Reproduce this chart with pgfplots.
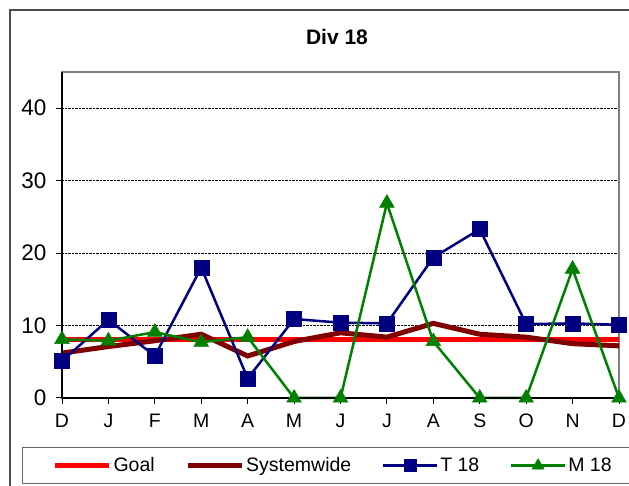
\documentclass[border=0pt]{standalone}
\usepackage{fontspec}
\setmainfont{Liberation Sans}
\usepackage{pgfplots}
\pgfplotsset{compat=1.18}
\definecolor{goalc}{RGB}{255,0,0}
\definecolor{sysc}{RGB}{128,0,0}
\definecolor{tc}{RGB}{0,0,128}
\definecolor{mc}{RGB}{0,128,0}
\begin{document}
\begin{tikzpicture}[x=1pt,y=1pt]
\useasboundingbox (0,0) rectangle (629,486);
\draw[line width=1.2pt, black!70] (10,-5) -- (10,476) -- (640,476);
\node[font=\bfseries\fontsize{21}{24}\selectfont] at (337,449) {Div 18};
\begin{axis}[at={(62pt,88pt)}, anchor=south west, scale only axis,
  width=557pt, height=326pt,
  xmin=0, xmax=12, ymin=0, ymax=45,
  xtick={0,...,12}, xticklabels={D,J,F,M,A,M,J,J,A,S,O,N,D},
  ytick={0,10,20,30,40},
  ymajorgrids, grid style={densely dotted, black, line width=0.6pt},
  axis line style={black!50, line width=1.2pt},
  tick align=outside, tick pos=left, major tick length=6pt,
  tick style={black, line width=1pt},
  /pgf/number format/assume math mode=true,
  yticklabel style={font=\fontsize{22.5}{26}\selectfont, xshift=-6pt},
  xticklabel style={font=\fontsize{19.5}{23}\selectfont, yshift=-6pt, text height=14pt, text depth=0pt},
  clip=false,
  legend columns=4,
  legend style={at={(-0.0718,-0.2638)}, anchor=south west, draw=black!60, line width=1pt,
    font=\fontsize{19.5}{23}\selectfont, inner xsep=30pt, inner ysep=8pt,
    /tikz/every even column/.style={column sep=28.5pt}},
  legend image code/.code={\draw[#1, mark repeat=2, mark phase=2] plot coordinates {(0pt,0pt) (27pt,0pt) (54pt,0pt)};},
]
\addplot[goalc, line width=5pt, no marks] coordinates {
(0,8.1) (1,8.1) (2,8.1) (3,8.1) (4,8.1) (5,8.1) (6,8.1) (7,8.1) (8,8.1) (9,8.1) (10,8.1) (11,8.1) (12,8.1)};
\addlegendentry{Goal}
\addplot[sysc, line width=5pt, no marks] coordinates {
(0,6.2) (1,7.1) (2,7.9) (3,8.8) (4,5.8) (5,7.8) (6,9.0) (7,8.4) (8,10.3) (9,8.8) (10,8.4) (11,7.5) (12,7.2)};
\addlegendentry{Systemwide}
\addplot[tc, line width=2.5pt, mark=square*, mark size=7.5pt, mark options={solid, line width=0.5pt},
  legend image post style={mark size=6pt}] coordinates {
(0,5.1) (1,10.8) (2,5.8) (3,18.0) (4,2.7) (5,10.9) (6,10.4) (7,10.3) (8,19.4) (9,23.3) (10,10.2) (11,10.3) (12,10.1)};
\addlegendentry{T 18}
\addplot[mc, line width=2.5pt, mark=triangle*, mark size=8.5pt, mark options={solid, line width=0.5pt},
  legend image post style={mark size=7pt}] coordinates {
(0,8.1) (1,7.9) (2,9.1) (3,7.7) (4,8.4) (5,0) (6,0) (7,26.9) (8,7.8) (9,0) (10,0) (11,17.8) (12,0)};
\addlegendentry{M 18}
\draw[black, line width=1.2pt] (rel axis cs:0,1) -- (rel axis cs:0,0) -- (rel axis cs:1,0);
\end{axis}
\end{tikzpicture}
\end{document}
